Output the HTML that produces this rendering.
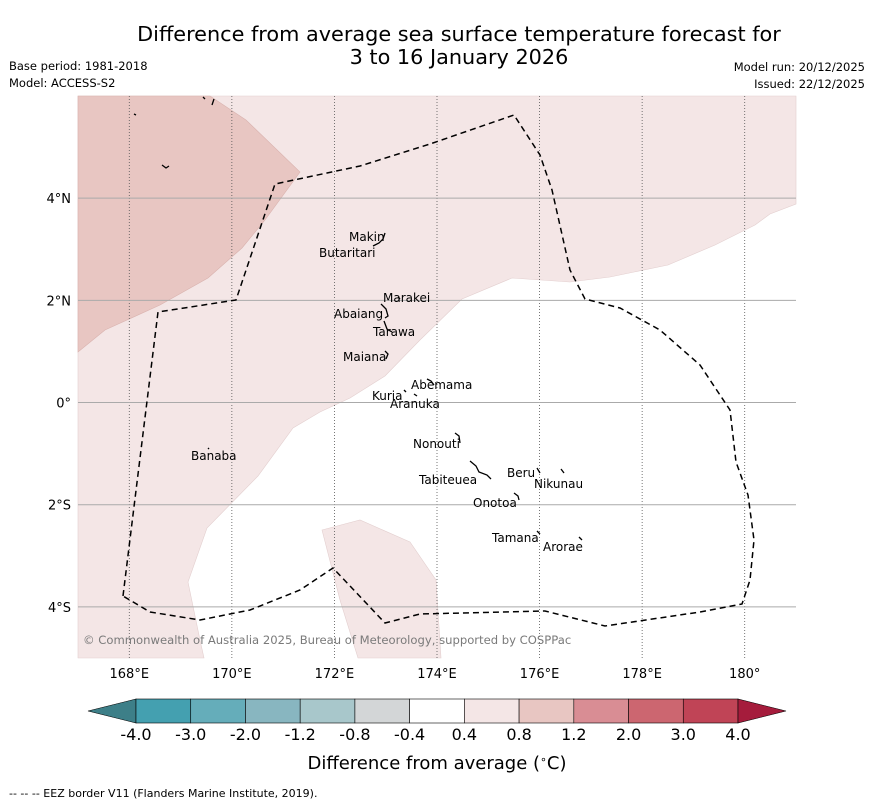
<!DOCTYPE html>
<html><head><meta charset="utf-8"><style>
body{margin:0;background:#fff;font-family:"Liberation Sans","DejaVu Sans",sans-serif}
svg text{font-family:"DejaVu Sans","Liberation Sans",sans-serif}
</style></head><body>
<svg width="873" height="804" xmlns="http://www.w3.org/2000/svg">
<text x="459" y="41" font-size="20.8" text-anchor="middle">Difference from average sea surface temperature forecast for</text>
<text x="459" y="64" font-size="20.8" text-anchor="middle">3 to 16 January 2026</text>
<text x="9" y="70" font-size="11.5">Base period: 1981-2018</text>
<text x="9" y="87" font-size="11.5">Model: ACCESS-S2</text>
<text x="865" y="71" font-size="11.5" text-anchor="end">Model run: 20/12/2025</text>
<text x="865" y="88" font-size="11.5" text-anchor="end">Issued: 22/12/2025</text>
<g>
<rect x="78" y="96" width="718" height="562" fill="#fff"/>
<polygon fill="#f4e6e6" stroke="#e3cfcf" stroke-width="0.6" points="78,96 796,96 796,204 770,214 755,225 715,245 668,265 610,277 570,282 512,278 462,299 420,340 385,376 350,398 320,412 293,428 258,476 207,528 188,582 200,640 204,658 78,658"/>
<polygon fill="#f4e6e6" stroke="#e3cfcf" stroke-width="0.6" points="322,530 360,520 410,542 436,580 441,658 358,658 340,600"/>
<polygon fill="#e8c6c2" stroke="#d9b2ae" stroke-width="0.6" points="78,96 210,96 246,120 300,172 265,220 242,248 208,278 160,305 105,330 78,352"/>
<g id="grid"></g>
<polyline fill="none" stroke="#000" stroke-width="1.5" stroke-dasharray="6,4" points="123,596 158,312 236,300 275,184 360,166 430,144 514,115 540,155 552,190 570,270 585,299 620,308 660,330 700,365 730,410 736,462 748,495 754,540 750,580 742,604 700,612 605,626 545,611 420,614 385,623 333,568 300,590 250,610 200,620 150,612 123,596"/>
<g stroke="#000" stroke-width="1.3" fill="none">
<path d="M373,246 l6,-3 l4,-4 l2,-6"/><path d="M381,304 l5,5 l2,7 l-3,2"/><path d="M384,321 l3,8 l5,3"/>
<path d="M385,351 l3,3 l-2,5"/><path d="M427,379 l4,2 l3,4"/><path d="M404,390 l2,2"/><path d="M414,394 l3,2"/>
<path d="M455,433 l4,3 l1,7"/><path d="M470,461 l6,5 l3,6 l8,3 l4,4"/><path d="M537,468 l3,5"/><path d="M561,469 l3,4"/>
<path d="M514,493 l4,3 l1,4"/><path d="M537,531 l3,3"/><path d="M579,537 l3,3"/><path d="M208,448 l1,1"/>
<path d="M134,114 l2,1"/><path d="M162,165 l4,3 l3,-2"/><path d="M203,97 l2,2 M214,99 l-2,6"/><path d="M398,297 l2,2"/>
</g>
<g font-size="12" fill="#000">
<text x="349" y="241">Makin</text><text x="319" y="257">Butaritari</text><text x="383" y="302">Marakei</text>
<text x="334" y="318">Abaiang</text><text x="373" y="336">Tarawa</text><text x="343" y="361">Maiana</text>
<text x="411" y="389">Abemama</text><text x="372" y="400">Kuria</text><text x="390" y="408">Aranuka</text>
<text x="413" y="448">Nonouti</text><text x="191" y="460">Banaba</text><text x="507" y="477">Beru</text>
<text x="534" y="488">Nikunau</text><text x="419" y="484">Tabiteuea</text><text x="473" y="507">Onotoa</text>
<text x="492" y="542">Tamana</text><text x="543" y="551">Arorae</text>
</g>
<text x="83" y="644" font-size="11.6" fill="#7a7a7a">© Commonwealth of Australia 2025, Bureau of Meteorology, supported by COSPPac</text>
</g>
<g id="axes"></g>
<g id="cbar"></g>
<text x="437" y="769" font-size="18" text-anchor="middle">Difference from average (<tspan font-size="11" dy="-6">∘</tspan><tspan dy="6">C)</tspan></text>
<text x="9" y="797" font-size="11">--  --  -- EEZ border V11 (Flanders Marine Institute, 2019).</text>
</svg>
<script>
const lonTicks=[168,170,172,174,176,178,180];
const lonLabels=["168°E","170°E","172°E","174°E","176°E","178°E","180°"];
const latTicks=[4,2,0,-2,-4];
const latLabels=["4°N","2°N","0°","2°S","4°S"];
const cbarLabels=["-4.0","-3.0","-2.0","-1.2","-0.8","-0.4","0.4","0.8","1.2","2.0","3.0","4.0"];
const cbarColors=["#44a0b0","#65adba","#88b6c0","#a8c7cb","#d3d6d7","#ffffff","#f4e6e6","#e8c6c2","#d98d94","#cc6670","#c04456"];
const lowColor="#3d7f88", highColor="#a51c3c";
const NS="http://www.w3.org/2000/svg";
const xOf=lon=>78+(lon-167)*(718/14);
const yOf=lat=>96+(6-lat)*(562/11);
function mk(tag,attrs,parent){const e=document.createElementNS(NS,tag);for(const k in attrs)e.setAttribute(k,attrs[k]);parent.appendChild(e);return e;}
const grid=document.getElementById('grid'),axes=document.getElementById('axes');
lonTicks.forEach((v,i)=>{const x=xOf(v);
 const l=mk('line',{x1:x,x2:x,y1:96,y2:658,stroke:'#555','stroke-width':0.8,'stroke-dasharray':'1,2'},grid);
 
 
 const t=mk('text',{x:x,y:678,'font-size':13,'text-anchor':'middle'},axes);t.textContent=lonLabels[i];
 
 });
latTicks.forEach((v,i)=>{const y=yOf(v);
 const l=mk('line',{x1:78,x2:796,y1:y,y2:y,stroke:'#aaa','stroke-width':1},grid);
 
 
 const t=mk('text',{x:71,y:y+5,'font-size':13,'text-anchor':'end'},axes);t.textContent=latLabels[i];
 
 });
const cb=document.getElementById('cbar');const x0=136,x1=738,w=(x1-x0)/cbarColors.length,cy=699,ch=24;
let tri=mk('polygon',{points:`${x0},${cy} ${x0},${cy+ch} 88,${cy+ch/2}`,fill:lowColor,stroke:'#000','stroke-width':0.6},cb);


cbarColors.forEach((c,i)=>{const r=mk('rect',{x:x0+i*w,y:cy,width:w,height:ch,fill:c,stroke:'#000','stroke-width':0.6},cb);
 
 });
tri=mk('polygon',{points:`${x1},${cy} ${x1},${cy+ch} 786,${cy+ch/2}`,fill:highColor,stroke:'#000','stroke-width':0.6},cb);


cbarLabels.forEach((s,i)=>{const t=mk('text',{x:x0+i*w,y:740,'font-size':16,'text-anchor':'middle'},cb);t.textContent=s;
 
 });
</script>
</body></html>
